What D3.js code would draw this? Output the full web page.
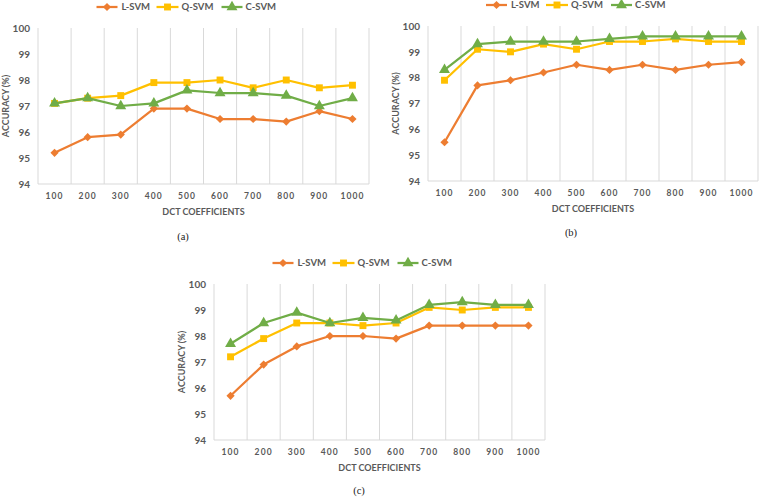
<!DOCTYPE html>
<html><head><meta charset="utf-8">
<script src="https://cdn.jsdelivr.net/npm/d3@7"></script>
<style>body{margin:0;background:#fff}svg{display:block}</style>
</head><body>
<svg id="c" width="760" height="499"></svg>
<script>
const categories = ["100","200","300","400","500","600","700","800","900","1000"];
const seriesNames = ["L-SVM","Q-SVM","C-SVM"];
const yTicks = [94,95,96,97,98,99,100];

const aL = [95.2,95.8,95.9,96.9,96.9,96.5,96.5,96.4,96.8,96.5];
const aQ = [97.1,97.3,97.4,97.9,97.9,98.0,97.7,98.0,97.7,97.8];
const aC = [97.1,97.3,97.0,97.1,97.6,97.5,97.5,97.4,97.0,97.3];

const bL = [95.5,97.7,97.9,98.2,98.5,98.3,98.5,98.3,98.5,98.6];
const bQ = [97.9,99.1,99.0,99.3,99.1,99.4,99.4,99.5,99.4,99.4];
const bC = [98.3,99.3,99.4,99.4,99.4,99.5,99.6,99.6,99.6,99.6];

const cL = [95.7,96.9,97.6,98.0,98.0,97.9,98.4,98.4,98.4,98.4];
const cQ = [97.2,97.9,98.5,98.5,98.4,98.5,99.1,99.0,99.1,99.1];
const cC = [97.7,98.5,98.9,98.5,98.7,98.6,99.2,99.3,99.2,99.2];

const captions = ["(a)","(b)","(c)"];
const colors = ["#ED7D31","#FFC000","#70AD47"];
const symbols = [d3.symbolSquare, d3.symbolSquare, d3.symbolTriangle];
const symRot = [45, 0, 0];
const symSizes = [34, 48, 52];

const panels = [
  {x0:38, x1:369, yTop:28, yBot:184, cap:[183,240], data:[aL,aQ,aC]},
  {x0:428, x1:758, yTop:26, yBot:181, cap:[571,236], data:[bL,bQ,bC]},
  {x0:214, x1:545, yTop:284, yBot:440, cap:[359,494], data:[cL,cQ,cC]}
];

const svg = d3.select("#c");
const font = "Lato, 'Open Sans', sans-serif";
const txtCol = "#595959";

panels.forEach((p, pi) => {
  const g = svg.append("g");
  const x = d3.scaleBand().domain(categories).range([p.x0, p.x1]);
  const y = d3.scaleLinear().domain([94,100]).range([p.yBot, p.yTop]);
  const cx = (p.x0 + p.x1) / 2;

  const bounds = categories.map(c => x(c)).concat([p.x1]);
  g.selectAll(".vg").data(bounds).join("line")
    .attr("x1", d => d).attr("x2", d => d)
    .attr("y1", p.yTop).attr("y2", p.yBot)
    .attr("stroke", "#d9d9d9").attr("stroke-width", 1);
  g.append("line").attr("x1", p.x0).attr("x2", p.x1)
    .attr("y1", p.yBot).attr("y2", p.yBot)
    .attr("stroke", "#d9d9d9").attr("stroke-width", 1);

  const yAxis = d3.axisLeft(y).tickValues(yTicks).tickFormat(d3.format("d")).tickSize(0).tickPadding(8);
  const ya = g.append("g").attr("transform", `translate(${p.x0},0)`).call(yAxis);
  ya.select(".domain").remove();
  ya.selectAll("text").attr("font-family", font).attr("font-size", 10)
    .attr("font-weight", "bold").attr("fill", txtCol);

  const xAxis = d3.axisBottom(x).tickSize(0).tickPadding(9);
  const xa = g.append("g").attr("transform", `translate(0,${p.yBot})`).call(xAxis);
  xa.select(".domain").remove();
  xa.selectAll("text").attr("font-family", font).attr("font-size", 8.5)
    .attr("font-weight", "bold").attr("fill", txtCol).attr("letter-spacing", 1.1);

  g.append("text").attr("x", cx).attr("y", p.yBot + 31)
    .attr("text-anchor", "middle").attr("font-family", font)
    .attr("font-size", 9).attr("font-weight", "bold").attr("fill", txtCol)
    .text("DCT COEFFICIENTS");
  g.append("text")
    .attr("transform", `translate(${p.x0 - 29},${(p.yTop + p.yBot) / 2}) rotate(-90)`)
    .attr("text-anchor", "middle").attr("font-family", font)
    .attr("font-size", 9).attr("font-weight", "bold").attr("fill", txtCol)
    .text("ACCURACY (%)");

  p.data.forEach((vals, si) => {
    const pts = vals.map((v, i) => [x(categories[i]) + x.bandwidth() / 2, y(v)]);
    g.append("path").attr("d", d3.line()(pts)).attr("fill", "none")
      .attr("stroke", colors[si]).attr("stroke-width", 2.25)
      .attr("stroke-linejoin", "round");
    g.selectAll(".m" + si).data(pts).join("path")
      .attr("transform", d => `translate(${d[0]},${d[1]}) rotate(${symRot[si]})`)
      .attr("d", d3.symbol().type(symbols[si]).size(symSizes[si])())
      .attr("fill", colors[si]);
  });

  const legOff = [[-107, -86, -82], [-47, -25, -22], [18, 39, 42]];
  const ly = p.yTop - 21;
  seriesNames.forEach((n, si) => {
    const o = legOff[si];
    g.append("line").attr("x1", cx + o[0]).attr("x2", cx + o[1])
      .attr("y1", ly).attr("y2", ly).attr("stroke", colors[si]).attr("stroke-width", 2.25);
    g.append("path").attr("transform", `translate(${cx + (o[0] + o[1]) / 2},${ly}) rotate(${symRot[si]})`)
      .attr("d", d3.symbol().type(symbols[si]).size(symSizes[si])())
      .attr("fill", colors[si]);
    g.append("text").attr("x", cx + o[2]).attr("y", ly).attr("dy", "0.35em")
      .attr("font-family", font).attr("font-size", 9.5).attr("font-weight", "bold")
      .attr("fill", txtCol).text(n);
  });

  g.append("text").attr("x", p.cap[0]).attr("y", p.cap[1]).attr("text-anchor", "middle")
    .attr("font-family", "'Liberation Serif', serif").attr("font-size", 10.5)
    .attr("fill", "#222").text(captions[pi]);
});
</script>
</body></html>
